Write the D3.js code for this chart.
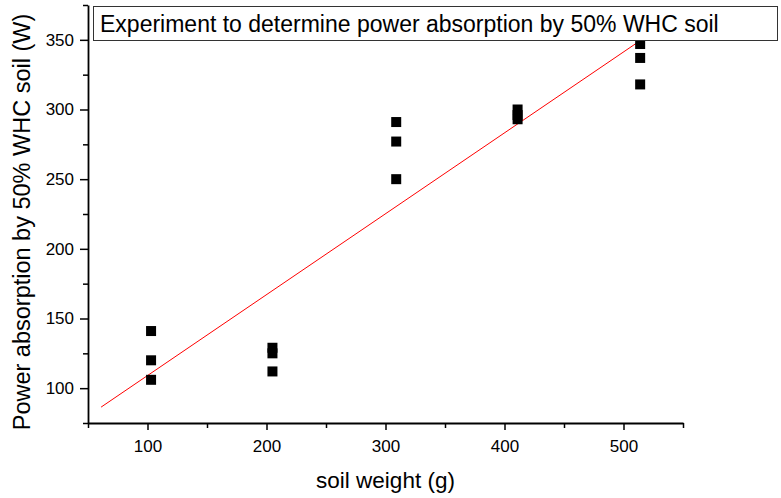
<!DOCTYPE html>
<html>
<head>
<meta charset="utf-8">
<script src="https://cdn.jsdelivr.net/npm/d3@7"></script>
<style>
  body { margin: 0; background: #fff; }
  svg text { font-family: "Liberation Sans", Arial, sans-serif; fill: #000; }
</style>
</head>
<body>
<svg id="chart"></svg>
<script>
// measured values
const soilWeight = [103, 103, 103, 205, 205, 205, 309, 309, 309, 411, 411, 411, 514, 514, 514];
const powerAbs = [141, 120, 106, 129, 125, 112, 291, 277, 250, 300, 296, 293, 347, 337, 318];
const fitX = [61, 515];
const fitY = [86.4, 350];
const xTicks = [100, 200, 300, 400, 500];
const yTicks = [100, 150, 200, 250, 300, 350];
const titleText = 'Experiment to determine power absorption by 50% WHC soil';

const W = 781, H = 498;
const margin = { top: 5, right: 98, bottom: 75, left: 88 }; // plot box 88..683, 5..423

const svg = d3.select('#chart')
  .attr('width', W)
  .attr('height', H);

const x = d3.scaleLinear()
  .domain([50, 550])
  .range([margin.left, W - margin.right]);

const y = d3.scaleLinear()
  .domain([75, 375])
  .range([H - margin.bottom, margin.top]);

// minor ticks first, then major ones on top
const xMinor = d3.range(50, 551, 100);
const yMinor = d3.range(75, 376, 50);

svg.append('g')
  .attr('transform', `translate(0,${H - margin.bottom})`)
  .call(d3.axisBottom(x).tickValues(xMinor).tickSize(5).tickFormat(''))
  .call(g => g.select('.domain').remove())
  .selectAll('line').attr('stroke-width', 1.5);

svg.append('g')
  .attr('transform', `translate(${margin.left},0)`)
  .call(d3.axisLeft(y).tickValues(yMinor).tickSize(5).tickFormat(''))
  .call(g => g.select('.domain').remove())
  .selectAll('line').attr('stroke-width', 1.5);

const xAxis = svg.append('g')
  .attr('transform', `translate(0,${H - margin.bottom})`)
  .call(d3.axisBottom(x).tickValues(xTicks).tickSize(7).tickSizeOuter(0).tickPadding(10));
xAxis.select('.domain').attr('stroke-width', 1.8);
xAxis.selectAll('line').attr('stroke-width', 1.5);
xAxis.selectAll('text').attr('font-size', 17);

const yAxis = svg.append('g')
  .attr('transform', `translate(${margin.left},0)`)
  .call(d3.axisLeft(y).tickValues(yTicks).tickSize(8).tickSizeOuter(0).tickPadding(6));
yAxis.select('.domain').attr('stroke-width', 1.8);
yAxis.selectAll('line').attr('stroke-width', 1.5);
yAxis.selectAll('text').attr('font-size', 17);

// axis titles
svg.append('text')
  .attr('x', (margin.left + W - margin.right) / 2)
  .attr('y', 488)
  .attr('text-anchor', 'middle')
  .attr('font-size', 22.5)
  .text('soil weight (g)');

svg.append('text')
  .attr('transform', `translate(30,222) rotate(-90)`)
  .attr('text-anchor', 'middle')
  .attr('font-size', 23.5)
  .text('Power absorption by 50% WHC soil (W)');

// linear fit
svg.append('line')
  .attr('x1', x(fitX[0])).attr('y1', y(fitY[0]))
  .attr('x2', x(fitX[1])).attr('y2', y(fitY[1]))
  .attr('stroke', '#ff0000')
  .attr('stroke-width', 1);

// data points
const sq = 10;
svg.selectAll('rect.pt')
  .data(soilWeight)
  .enter()
  .append('rect')
  .attr('class', 'pt')
  .attr('x', d => x(d) - sq / 2)
  .attr('y', (d, i) => y(powerAbs[i]) - sq / 2)
  .attr('width', sq)
  .attr('height', sq)
  .attr('fill', '#000');

// title box
svg.append('rect')
  .attr('x', 93.5).attr('y', 6.5)
  .attr('width', 684).attr('height', 34)
  .attr('fill', '#fff')
  .attr('stroke', '#333')
  .attr('stroke-width', 1);

svg.append('text')
  .attr('x', 100)
  .attr('y', 32)
  .attr('font-size', 23)
  .text(titleText);
</script>
</body>
</html>
